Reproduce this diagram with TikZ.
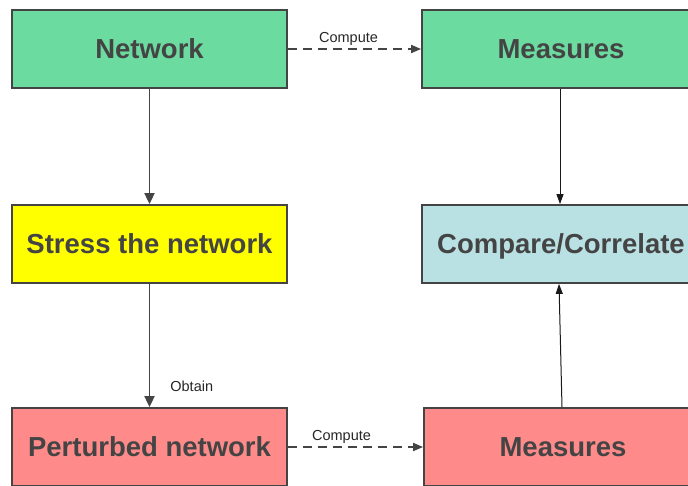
\documentclass[tikz,border=0pt]{standalone}
\usepackage{fontspec}
\setmainfont{Liberation Sans}
\usepackage{tikz}
\usetikzlibrary{arrows.meta,positioning}
\definecolor{ink}{HTML}{444444}
\definecolor{netgreen}{HTML}{6CDBA0}
\definecolor{stressy}{HTML}{FFFF00}
\definecolor{cmpblue}{HTML}{B9E0E3}
\definecolor{pertred}{HTML}{FF8A8A}
\tikzset{
  stage/.style={draw=ink, line width=1.8pt, minimum width=275pt, minimum height=78pt,
    inner sep=0pt, text height=19.7pt, text depth=0pt, text=ink,
    font=\fontsize{27.5}{30}\selectfont\bfseries},
  flow/.style={-{Triangle[length=11pt,width=10pt]}, draw=ink, line width=1.8pt},
  thinflow/.style={-{Triangle[length=10pt,width=7pt]}, draw=black!90, line width=1pt},
  calc/.style={-{Triangle[length=10pt,width=8pt]}, draw=ink, line width=1.8pt,
    dash pattern=on 9pt off 6pt},
  lbl/.style={font=\fontsize{14.5}{16}\selectfont, text=black!85, inner sep=2pt},
}
\begin{document}
\begin{tikzpicture}[x=1pt,y=-1pt]
  \useasboundingbox (0,0) rectangle (688,485);
  \clip (0,0) rectangle (688,485);
  % left column
  \node[stage, fill=netgreen] (net) at (149.5,49) {Network};
  \node[stage, fill=stressy] (stress) at (149.5,244) {Stress the network};
  \node[stage, fill=pertred] (pert) at (149.5,447) {Perturbed network};
  % right column
  \node[stage, fill=netgreen, minimum width=278pt] (meas) at (561,49) {Measures};
  \node[stage, fill=cmpblue, minimum width=278pt] (cmp) at (561,244) {Compare/Correlate};
  \node[stage, fill=pertred, minimum width=278pt] (pmeas) at (563,447) {Measures};
  % connectors
  \draw[flow] (net) -- (stress);
  \draw[flow] (stress) -- node[lbl, pos=0.83, right=18pt] {Obtain} (pert);
  \draw[calc] (net) -- node[lbl, above=1pt, xshift=-6pt] {Compute} (meas);
  \draw[calc] (pert) -- node[lbl, above=1pt, xshift=-14pt] {Compute} (pmeas);
  \draw[thinflow] (meas.south -| 560,0) -- (cmp.north -| 560,0);
  \draw[thinflow] (pmeas.north -| 562,0) -- (cmp.south -| 559,0);
\end{tikzpicture}
\end{document}
